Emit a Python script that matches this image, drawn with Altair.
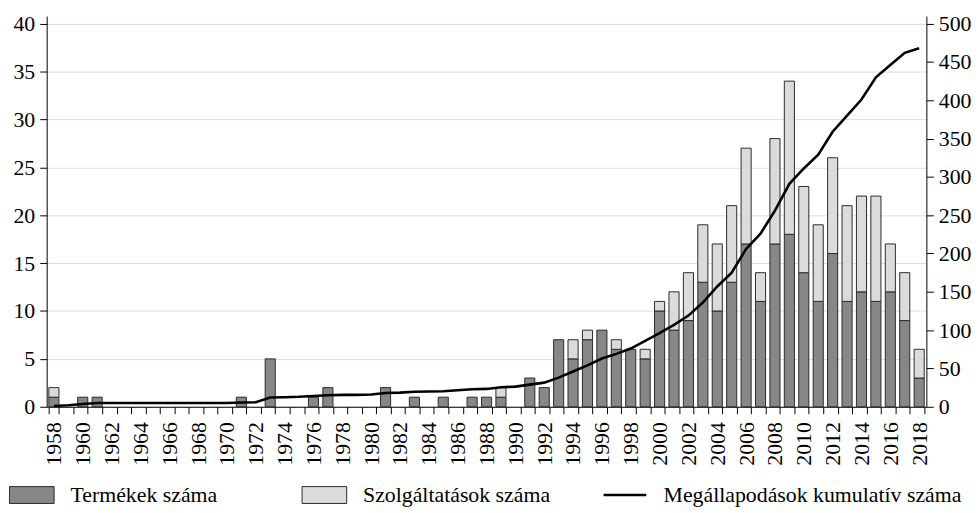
import altair as alt
import pandas as pd

years = list(range(1958, 2019))
products = [1, 0, 1, 1, 0, 0, 0, 0, 0, 0, 0, 0, 0,
            1, 0, 5, 0, 0, 1, 2, 0, 0, 0, 2, 0, 1, 0, 1, 0, 1, 1, 1, 0, 3, 2,
            7, 5, 7, 8, 6, 6, 5, 10, 8, 9, 13, 10, 13, 17, 11, 17, 18, 14, 11,
            16, 11, 12, 11, 12, 9, 3]
services = [1, 0, 0, 0, 0, 0, 0, 0, 0, 0, 0, 0, 0,
            0, 0, 0, 0, 0, 0, 0, 0, 0, 0, 0, 0, 0, 0, 0, 0, 0, 0, 1, 0, 0, 0,
            0, 2, 1, 0, 1, 0, 1, 1, 4, 5, 6, 7, 8, 10, 3, 11, 16, 9, 8,
            10, 10, 10, 11, 5, 5, 3]
cumulative = [1, 2, 3.5, 5, 5, 5, 5, 5, 5, 5, 5, 5, 5,
              5.5, 6, 12, 12.5, 13, 14, 15, 15.5, 15.5, 16, 18, 18.5, 19.5, 20,
              20.2, 21.5, 22.8, 23.3, 25.4, 26.3, 28.9, 31.5,
              38, 46, 54, 63, 69, 76, 86, 96, 107, 119, 136, 157, 175, 206, 226,
              256, 291, 311, 329, 359, 380, 401, 430, 446, 462, 468]

series_names = ["Termékek száma", "Szolgáltatások száma"]
line_name = "Megállapodások kumulatív száma"
left_ticks = [0, 5, 10, 15, 20, 25, 30, 35, 40]
right_ticks = [0, 50, 100, 150, 200, 250, 300, 350, 400, 450, 500]

rows = []
for y, p, s in zip(years, products, services):
    rows.append({"year": y, "type": series_names[0], "value": p, "ord": 0})
    rows.append({"year": y, "type": series_names[1], "value": s, "ord": 1})
bars_df = pd.DataFrame(rows)
line_df = pd.DataFrame({"year": years, "cum": cumulative, "name": line_name})

FONT = "Liberation Serif"
FS = 22

x_enc = alt.X(
    "year:O",
    title=None,
    scale=alt.Scale(paddingInner=0.3, paddingOuter=0.15),
    axis=alt.Axis(
        labelAngle=270,
        labelExpr="datum.value % 2 == 0 ? datum.label : ''",
        labelOverlap=False,
        tickBand="extent",
        tickSize=7,
        labelPadding=8,
        domainColor="#000000",
        tickColor="#000000",
    ),
)

bars = alt.Chart(bars_df).transform_filter("datum.value > 0").mark_bar(
    stroke="#2a2a2a", strokeWidth=1
).encode(
    x=x_enc,
    y=alt.Y(
        "value:Q",
        stack="zero",
        title=None,
        scale=alt.Scale(domain=[0, 40.8], nice=False),
        axis=alt.Axis(values=left_ticks, grid=True, gridColor="#dcdcdc",
                      tickSize=7, labelPadding=5,
                      domainColor="#000000", tickColor="#000000"),
    ),
    fill=alt.Fill(
        "type:N",
        scale=alt.Scale(domain=series_names, range=["#878787", "#dadbdc"]),
        legend=alt.Legend(
            title=None,
            orient="none",
            legendX=-26,
            legendY=472,
            direction="horizontal",
            symbolType="M-2.647,-1L2.647,-1L2.647,1L-2.647,1Z",
            symbolSize=289,
            symbolStrokeColor="#2a2a2a",
            symbolStrokeWidth=1,
            labelFont=FONT,
            labelFontSize=FS,
            labelColor="#000000",
            labelOffset=28,
            columnPadding=82,
            labelLimit=400,
        ),
    ),
    order=alt.Order("ord:Q", sort="ascending"),
)

line = alt.Chart(line_df).mark_line(strokeWidth=2.6).encode(
    x=alt.X("year:O"),
    y=alt.Y(
        "cum:Q",
        title=None,
        scale=alt.Scale(domain=[0, 510], nice=False),
        axis=alt.Axis(orient="right", values=right_ticks, grid=False,
                      tickSize=7, labelPadding=5,
                      domainColor="#000000", tickColor="#000000"),
    ),
    stroke=alt.Stroke(
        "name:N",
        scale=alt.Scale(domain=[line_name], range=["#000000"]),
        legend=alt.Legend(
            title=None,
            orient="none",
            legendX=572,
            legendY=472,
            symbolType="M-2.53,0L2.53,0",
            symbolSize=289,
            symbolStrokeWidth=2.6,
            labelFont=FONT,
            labelFontSize=FS,
            labelColor="#000000",
            labelOffset=28,
            labelLimit=400,
        ),
    ),
)

chart = (
    alt.layer(bars, line)
    .resolve_scale(y="independent", fill="independent", stroke="independent")
    .properties(width=887, height=394,
                padding={"left": 5, "top": 2, "right": 0, "bottom": 0})
    .configure_view(stroke=None)
    .configure_axis(
        labelFont=FONT,
        labelFontSize=FS,
        labelColor="#000000",
        domainWidth=1,
        tickWidth=1,
    )
)

chart.save("out.html", embed_options={"renderer": "svg", "actions": False})
